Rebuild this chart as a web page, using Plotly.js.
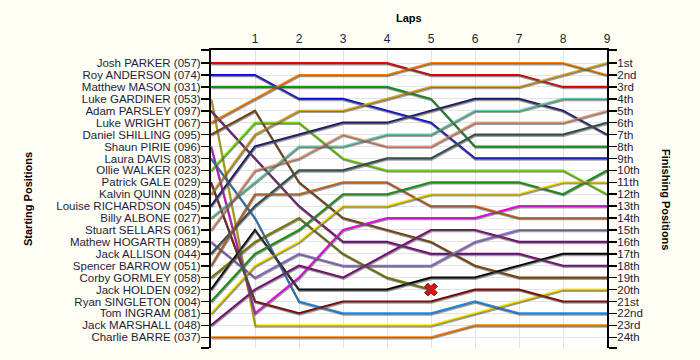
<!DOCTYPE html>
<html><head><meta charset="utf-8">
<script src="https://cdn.plot.ly/plotly-3.0.1.min.js"></script>
<style>html,body{margin:0;padding:0;background:#fefef4;} #chart{width:700px;height:360px;}</style>
</head><body><div id="chart"></div>
<script>
const laps = [0,1,2,3,4,5,6,7,8,9];
const riders = ['Josh PARKER (057)','Roy ANDERSON (074)','Matthew MASON (031)','Luke GARDINER (053)','Adam PARSLEY (097)','Luke WRIGHT (067)','Daniel SHILLING (095)','Shaun PIRIE (096)','Laura DAVIS (083)','Ollie WALKER (023)','Patrick GALE (029)','Kalvin QUINN (028)','Louise RICHARDSON (045)','Billy ALBONE (027)','Stuart SELLARS (061)','Mathew HOGARTH (089)','Jack ALLISON (044)','Spencer BARROW (051)','Corby GORMLEY (058)','Jack HOLDEN (092)','Ryan SINGLETON (004)','Tom INGRAM (081)','Jack MARSHALL (048)','Charlie BARRE (037)'];
const finishLabels = ['1st','2nd','3rd','4th','5th','6th','7th','8th','9th','10th','11th','12th','13th','14th','15th','16th','17th','18th','19th','20th','21st','22nd','23rd','24th'];

const joshParker      = [1,1,1,1,1,2,2,2,3,3];
const royAnderson     = [2,2,4,4,5,6,9,9,9,9];
const matthewMason    = [3,3,3,3,3,4,8,8,8,8];
const lukeGardiner    = [4,23,23,23,23,23,22,21,20,20];
const adamParsley     = [5,9,13,16,16,17,17,17,18,18];
const lukeWright      = [6,4,2,2,2,1,1,1,1,2];
const danielShilling  = [7,5,11,14,15,16,18,19,19,19];
const shaunPirie      = [8,22,19,15,14,14,14,13,13,13];
const lauraDavis      = [9,14,21,22,22,22,21,22,22,22];
const ollieWalker     = [10,6,6,9,10,10,10,10,10,12];
const patrickGale     = [11,21,22,21,21,21,20,20,21,21];
const kalvinQuinn     = [12,7,5,5,4,3,3,3,2,1];
const louiseRichardson= [13,8,7,6,6,5,4,4,5,7];
const billyAlbone     = [14,11,8,8,7,7,5,5,4,4];
const stuartSellars   = [15,10,9,7,8,8,6,6,6,5];
const mathewHogarth   = [16,19,17,18,18,18,16,15,15,15];
const jackAllison     = [17,13,10,10,9,9,7,7,7,6];
const spencerBarrow   = [18,12,12,11,11,13,13,14,14,14];
const corbyGormley    = [19,16,14,17,19,20];
const jackHolden      = [20,15,20,20,20,19,19,18,17,17];
const ryanSingleton   = [21,17,15,12,12,11,11,11,12,10];
const tomIngram       = [22,18,16,13,13,12,12,12,11,11];
const jackMarshall    = [23,20,18,19,17,15,15,16,16,16];
const charlieBarre    = [24,24,24,24,24,24,23,23,23,23];
const retired = [false,false,false,false,false,false,false,false,false,false,false,false,false,false,false,false,false,false,true,false,false,false,false,false];

const positions = [joshParker,royAnderson,matthewMason,lukeGardiner,adamParsley,lukeWright,danielShilling,shaunPirie,lauraDavis,ollieWalker,patrickGale,kalvinQuinn,louiseRichardson,billyAlbone,stuartSellars,mathewHogarth,jackAllison,spencerBarrow,corbyGormley,jackHolden,ryanSingleton,tomIngram,jackMarshall,charlieBarre];
const colors = ['#e00000','#0a0ae0','#109e10','#ffe800','#800080','#ff8000','#804000','#ff00ff','#2090f0','#80f800','#800000','#daa520','#191970','#66cdaa','#f5a080','#9370db','#2f4f4f','#d2691e','#808000','#000000','#109e10','#ffe800','#800080','#ff8000'];

const traces = [];
// shadows
positions.forEach((p, i) => {
  traces.push({x: laps.slice(0, p.length), y: p, xaxis: 'x2', yaxis: 'y3', mode: 'lines',
    line: {color: 'rgba(80,80,80,0.55)', width: 2.2}, hoverinfo: 'skip', showlegend: false});
});
positions.forEach((p, i) => {
  traces.push({x: laps.slice(0, p.length), y: p, mode: 'lines', name: riders[i],
    line: {color: colors[i], width: 2.2}, showlegend: false});
});
positions.forEach((p, i) => {
  if (retired[i]) {
    traces.push({x: [laps[p.length - 1]], y: [p[p.length - 1]], mode: 'markers', showlegend: false,
      marker: {symbol: 'x', size: 11, color: '#e81010', line: {color: '#600000', width: 1}}});
  }
});
// invisible trace so the right-hand (finishing) axis is drawn
traces.push({x: laps, y: charlieBarre, yaxis: 'y2', mode: 'lines', line: {width: 0, color: 'rgba(0,0,0,0)'}, hoverinfo: 'skip', showlegend: false});

const yRange = [24.9, -0.1];
const pxPerLap = 396 / 9, pxPerPos = 298 / 25;
const dx = 0.6 / pxPerLap, dy = 1.2 / pxPerPos;
const posTicks = finishLabels.map((_, i) => i + 1);
const tickFont = {family: 'Liberation Sans, Arial, sans-serif', size: 11.5, color: '#1c1c3c'};

const layout = {
  width: 700, height: 360,
  margin: {l: 211, r: 93, t: 50, b: 12, pad: 0},
  paper_bgcolor: '#fefef4', plot_bgcolor: '#ffffff',
  showlegend: false,
  xaxis: {side: 'top', range: [0, 9], tickvals: laps.slice(1), ticktext: laps.slice(1).map(String),
    showgrid: true, gridcolor: '#e4e4e4', gridwidth: 1, zeroline: false,
    showline: true, linecolor: '#000', linewidth: 2, ticks: '', tickfont: {family: 'Liberation Sans, Arial, sans-serif', size: 12, color: '#1c1c3c'}, fixedrange: true},
  yaxis: {range: yRange, tickvals: [-0.1].concat(posTicks, [24.9]), ticktext: [''].concat(riders, ['']),
    showgrid: true, gridcolor: '#e4e4e4', gridwidth: 1, zeroline: false,
    showline: true, linecolor: '#000', linewidth: 2, ticks: 'outside', ticklen: 8, tickwidth: 1.5, tickcolor: '#000',
    ticklabelstandoff: -2, tickfont: tickFont, fixedrange: true},
  yaxis2: {overlaying: 'y', side: 'right', range: yRange, tickvals: [-0.1].concat(posTicks, [24.9]), ticktext: [''].concat(finishLabels, ['']),
    showgrid: false, zeroline: false, showline: true, linecolor: '#000', linewidth: 2,
    ticks: 'outside', ticklen: 8, tickwidth: 1.5, tickcolor: '#000', ticklabelstandoff: -2, tickfont: tickFont, fixedrange: true},
  xaxis2: {overlaying: 'x', range: [0 - dx, 9 - dx], visible: false, fixedrange: true},
  yaxis3: {overlaying: 'y', range: [yRange[0] - dy, yRange[1] - dy], visible: false, fixedrange: true},
  annotations: [
    {text: '<b>Laps</b>', xref: 'paper', yref: 'paper', x: 0.5, y: 1 + 32 / 298, xanchor: 'center', yanchor: 'middle', showarrow: false,
      font: {family: 'Liberation Sans, Arial, sans-serif', size: 11, color: '#000'}},
    {text: '<b>Starting Positions</b>', xref: 'paper', yref: 'paper', x: (28 - 211) / 396, y: 0.5, textangle: -90, xanchor: 'center', yanchor: 'middle', showarrow: false,
      font: {family: 'Liberation Sans, Arial, sans-serif', size: 11, color: '#000'}},
    {text: '<b>Finishing Positions</b>', xref: 'paper', yref: 'paper', x: (666 - 211) / 396, y: 0.5, textangle: 90, xanchor: 'center', yanchor: 'middle', showarrow: false,
      font: {family: 'Liberation Sans, Arial, sans-serif', size: 11, color: '#000'}}
  ]
};
Plotly.newPlot('chart', traces, layout, {displayModeBar: false, staticPlot: true});
</script></body></html>
